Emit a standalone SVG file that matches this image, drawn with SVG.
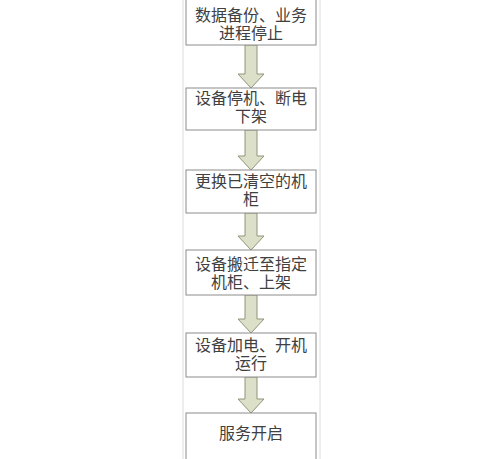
<svg xmlns="http://www.w3.org/2000/svg" width="500" height="459" viewBox="0 0 500 459">
<style>
.box{fill:#fff;stroke:#8c8c8c;stroke-width:1}
.t{font-family:"Liberation Serif","Noto Sans CJK SC",serif;font-size:16px;fill:#404040;text-anchor:middle}
.arr{fill:#dde0c8;stroke:#8f9478;stroke-width:1}
.frame{stroke:#dcdcdc;stroke-width:1}
</style>
<rect width="500" height="459" fill="#fff"/>
<line class="frame" x1="183" y1="0" x2="183" y2="459"/>
<line class="frame" x1="320" y1="0" x2="320" y2="459"/>
<g id="connectors">
<path class="arr" d="M245,45 H257 V74 H264 L251,88 L238,74 H245 Z"/>
<path class="arr" d="M245,130 H257 V156 H264 L251,170 L238,156 H245 Z"/>
<path class="arr" d="M245,213 H257 V236 H264 L251,250 L238,236 H245 Z"/>
<path class="arr" d="M245,295 H257 V319 H264 L251,333 L238,319 H245 Z"/>
<path class="arr" d="M245,377 H257 V399 H264 L251,413 L238,399 H245 Z"/>
</g>
<g id="n1"><rect class="box" x="186" y="-1" width="130" height="46"/><text class="t" x="251" y="21">数据备份、业务</text><text class="t" x="251" y="39">进程停止</text></g>
<g id="n2"><rect class="box" x="186" y="88" width="130" height="42"/><text class="t" x="251" y="104">设备停机、断电</text><text class="t" x="251" y="122">下架</text></g>
<g id="n3"><rect class="box" x="186" y="170" width="130" height="43"/><text class="t" x="251" y="187">更换已清空的机</text><text class="t" x="251" y="205">柜</text></g>
<g id="n4"><rect class="box" x="186" y="250" width="130" height="45"/><text class="t" x="251" y="270">设备搬迁至指定</text><text class="t" x="251" y="288">机柜、上架</text></g>
<g id="n5"><rect class="box" x="186" y="333" width="130" height="44"/><text class="t" x="251" y="351">设备加电、开机</text><text class="t" x="251" y="369">运行</text></g>
<g id="n6"><rect class="box" x="186" y="413" width="130" height="60"/><text class="t" x="251" y="439">服务开启</text></g>
</svg>
